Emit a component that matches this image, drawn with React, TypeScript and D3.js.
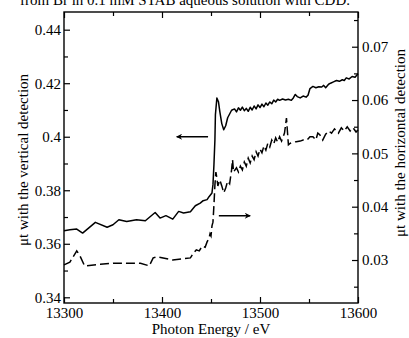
import { useRef, useEffect } from "react"
import * as d3 from "d3"

// vertical detection (solid, left axis)
const energyV = [
  13300, 13306, 13313, 13319, 13332, 13344, 13350, 13356, 13364, 13374, 13383, 13393, 13398, 13404, 13411, 13417,
  13422, 13429, 13434, 13439, 13442, 13446, 13448, 13451, 13452, 13453, 13454, 13454.5, 13456, 13457.6, 13459, 13461,
  13463, 13465, 13467, 13471, 13474, 13476, 13478, 13480, 13482, 13484, 13486, 13488, 13490, 13492, 13494, 13496,
  13498, 13500, 13502, 13504, 13506, 13508, 13510, 13512, 13514, 13516, 13518, 13520, 13523, 13526, 13529, 13532,
  13534, 13536, 13538, 13541, 13544, 13547, 13549, 13551, 13554, 13557, 13560, 13563, 13565, 13567, 13570, 13572,
  13575, 13578, 13581, 13584, 13586, 13588, 13591, 13594, 13597, 13600,
]
const vertical = [
  0.3649, 0.3652, 0.3655, 0.364, 0.368, 0.3662, 0.3671, 0.369, 0.3683, 0.369, 0.3686, 0.3717, 0.3696, 0.3705, 0.3692,
  0.3721, 0.3715, 0.372, 0.3742, 0.3752, 0.3761, 0.3765, 0.3776, 0.379, 0.3821, 0.3895, 0.3989, 0.4082, 0.4145, 0.4131,
  0.4094, 0.4049, 0.4026, 0.4041, 0.4071, 0.4099, 0.4104, 0.4093, 0.4108, 0.4099, 0.4111, 0.4097, 0.4106, 0.4095,
  0.411, 0.41, 0.4115, 0.4104, 0.4119, 0.4109, 0.4122, 0.4112, 0.4126, 0.4118, 0.413, 0.4123, 0.4137, 0.413, 0.414,
  0.4136, 0.4141, 0.4137, 0.414, 0.4136, 0.4145, 0.4158, 0.415, 0.4145, 0.4152, 0.4148, 0.4155, 0.418, 0.4188, 0.4183,
  0.4187, 0.4186, 0.4192, 0.4183, 0.4196, 0.42, 0.4205, 0.421, 0.4207, 0.4213, 0.421, 0.422, 0.4216, 0.4225, 0.4222,
  0.4235,
]

// horizontal detection (dashed, right axis)
const energyH = [
  13300, 13306, 13313, 13316, 13321, 13337, 13350, 13364, 13378, 13387, 13391, 13395, 13411, 13429, 13432, 13435,
  13438, 13441, 13444, 13446, 13448, 13449, 13450, 13451, 13452, 13453, 13454, 13455, 13456, 13457, 13459, 13461,
  13463, 13465, 13467, 13469, 13471, 13472, 13473, 13476, 13478, 13480, 13482, 13484, 13486, 13488, 13490, 13492,
  13494, 13496, 13498, 13500, 13502, 13504, 13506, 13508, 13510, 13512, 13514, 13516, 13518, 13520, 13522, 13525,
  13527, 13529, 13531, 13534, 13537, 13541, 13544, 13548, 13551, 13554, 13557, 13559, 13561, 13564, 13567, 13570,
  13573, 13576, 13580, 13583, 13586, 13589, 13592, 13595, 13598, 13600,
]
const horizontal = [
  0.0291, 0.0296, 0.0317, 0.0309, 0.0289, 0.0292, 0.0294, 0.0294, 0.0294, 0.0289, 0.0304, 0.0306, 0.03, 0.0304, 0.0313,
  0.0319, 0.0317, 0.0326, 0.0324, 0.0334, 0.0341, 0.0349, 0.0345, 0.0364, 0.0371, 0.0403, 0.0441, 0.0465, 0.0454,
  0.0439, 0.045, 0.0439, 0.0426, 0.0435, 0.0448, 0.0443, 0.0469, 0.0488, 0.0465, 0.0473, 0.0465, 0.0476, 0.0469,
  0.0484, 0.0476, 0.0491, 0.0482, 0.0495, 0.0488, 0.0503, 0.0495, 0.0508, 0.0501, 0.0514, 0.0506, 0.0519, 0.0512,
  0.0525, 0.0518, 0.0529, 0.0521, 0.0531, 0.0523, 0.0538, 0.0566, 0.0516, 0.0519, 0.0521, 0.0522, 0.0523, 0.0525,
  0.0525, 0.0531, 0.0531, 0.0525, 0.0538, 0.0535, 0.0525, 0.0536, 0.0542, 0.0538, 0.0546, 0.0538, 0.0548, 0.0542,
  0.055, 0.0542, 0.0548, 0.054, 0.0544,
]

const xTicks = [13300, 13400, 13500, 13600]
const xMinor = [13350, 13450, 13550]
const leftTicks = [0.34, 0.36, 0.38, 0.4, 0.42, 0.44]
const leftMinor = [0.35, 0.37, 0.39, 0.41, 0.43]
const rightTicks = [0.03, 0.04, 0.05, 0.06, 0.07]
const rightMinor = [0.025, 0.035, 0.045, 0.055, 0.065, 0.075]

// arrows: [fromEnergy, toEnergy, value, axis]
const arrows: [number, number, number, "left" | "right"][] = [
  [13447, 13415, 0.4, "left"],
  [13458, 13490, 0.0383, "right"],
]

const FONT = "'Liberation Serif', 'DejaVu Serif', serif"

export default function App() {
  const svgRef = useRef<SVGSVGElement | null>(null)

  useEffect(() => {
    if (!svgRef.current) return
    const svg = d3.select(svgRef.current)
    svg.selectAll("*").remove()

    const left = 64, right = 358, top = 12, bottom = 303

    const x = d3.scaleLinear().domain([13300, 13600]).range([left, right])
    const yL = d3.scaleLinear().domain([0.33787, 0.44661]).range([bottom, top])
    const yR = d3.scaleLinear().domain([0.02194, 0.07651]).range([bottom, top])
    const fmt = (d: number) => String(+d.toFixed(3))

    // arrowhead marker
    svg
      .append("defs")
      .append("marker")
      .attr("id", "head")
      .attr("viewBox", "0 0 10 10")
      .attr("refX", 9)
      .attr("refY", 5)
      .attr("markerWidth", 9)
      .attr("markerHeight", 6)
      .attr("markerUnits", "userSpaceOnUse")
      .attr("orient", "auto")
      .append("path")
      .attr("d", "M0,0 L10,5 L0,10 L3,5 Z")
      .attr("fill", "#000")

    // title (cut off at top in the source)
    svg
      .append("text")
      .attr("x", 185)
      .attr("y", 5)
      .attr("text-anchor", "middle")
      .attr("font-family", FONT)
      .attr("font-size", 15)
      .text("from Br in 0.1 mM STAB aqueous solution with CDD.")

    const styleAxis = (g: d3.Selection<SVGGElement, unknown, null, undefined>) => {
      g.select(".domain").remove()
      g.selectAll("line").attr("stroke", "#000").attr("stroke-width", 1.2)
      g.selectAll("text").attr("font-family", FONT).attr("font-size", 15).attr("fill", "#000")
    }

    // bottom axis
    svg
      .append("g")
      .attr("transform", `translate(0,${bottom})`)
      .call(d3.axisBottom(x).tickValues(xTicks).tickSize(-6).tickPadding(4).tickFormat((d) => String(d)))
      .call(styleAxis)
    svg
      .append("g")
      .attr("transform", `translate(0,${bottom})`)
      .call(d3.axisBottom(x).tickValues(xMinor).tickSize(-4).tickFormat(() => ""))
      .call(styleAxis)
    // top axis
    svg
      .append("g")
      .attr("transform", `translate(0,${top})`)
      .call(d3.axisTop(x).tickValues(xTicks).tickSize(-6).tickFormat(() => ""))
      .call(styleAxis)
    svg
      .append("g")
      .attr("transform", `translate(0,${top})`)
      .call(d3.axisTop(x).tickValues(xMinor).tickSize(-4).tickFormat(() => ""))
      .call(styleAxis)

    // left axis
    svg
      .append("g")
      .attr("transform", `translate(${left},0)`)
      .call(d3.axisLeft(yL).tickValues(leftTicks).tickSize(-6).tickPadding(3).tickFormat((d) => fmt(d as number)))
      .call(styleAxis)
    svg
      .append("g")
      .attr("transform", `translate(${left},0)`)
      .call(d3.axisLeft(yL).tickValues(leftMinor).tickSize(-4).tickFormat(() => ""))
      .call(styleAxis)

    // right axis
    svg
      .append("g")
      .attr("transform", `translate(${right},0)`)
      .call(d3.axisRight(yR).tickValues(rightTicks).tickSize(-6).tickPadding(4).tickFormat((d) => fmt(d as number)))
      .call(styleAxis)
    svg
      .append("g")
      .attr("transform", `translate(${right},0)`)
      .call(d3.axisRight(yR).tickValues(rightMinor).tickSize(-4).tickFormat(() => ""))
      .call(styleAxis)

    // frame
    svg
      .append("rect")
      .attr("x", left)
      .attr("y", top)
      .attr("width", right - left)
      .attr("height", bottom - top)
      .attr("fill", "none")
      .attr("stroke", "#000")
      .attr("stroke-width", 1.4)

    // axis titles
    svg
      .append("text")
      .attr("x", (left + right) / 2)
      .attr("y", 334)
      .attr("text-anchor", "middle")
      .attr("font-family", FONT)
      .attr("font-size", 15)
      .text("Photon Energy / eV")

    svg
      .append("text")
      .attr("transform", "translate(28,160) rotate(-90)")
      .attr("text-anchor", "middle")
      .attr("font-family", FONT)
      .attr("font-size", 15)
      .text("μt with the vertical detection")

    svg
      .append("text")
      .attr("transform", "translate(405,143) rotate(-90)")
      .attr("text-anchor", "middle")
      .attr("font-family", FONT)
      .attr("font-size", 15)
      .text("μt with the horizontal detection")

    // lines
    const lineV = d3
      .line<number>()
      .x((_, i) => x(energyV[i]))
      .y((d) => yL(d))
    const lineH = d3
      .line<number>()
      .x((_, i) => x(energyH[i]))
      .y((d) => yR(d))

    svg
      .append("path")
      .datum(vertical)
      .attr("fill", "none")
      .attr("stroke", "#000")
      .attr("stroke-width", 1.5)
      .attr("stroke-linejoin", "round")
      .attr("d", lineV)

    svg
      .append("path")
      .datum(horizontal)
      .attr("fill", "none")
      .attr("stroke", "#000")
      .attr("stroke-width", 1.5)
      .attr("stroke-dasharray", "9,4")
      .attr("d", lineH)

    // arrows
    arrows.forEach(([e0, e1, v, axis]) => {
      const yy = axis === "left" ? yL(v) : yR(v)
      svg
        .append("line")
        .attr("x1", x(e0))
        .attr("x2", x(e1))
        .attr("y1", yy)
        .attr("y2", yy)
        .attr("stroke", "#000")
        .attr("stroke-width", 1.3)
        .attr("marker-end", "url(#head)")
    })
  }, [])

  return (
    <svg
      ref={svgRef}
      width={409}
      height={338}
      style={{ position: "absolute", left: 0, top: 0, background: "#fff" }}
    ></svg>
  )
}
